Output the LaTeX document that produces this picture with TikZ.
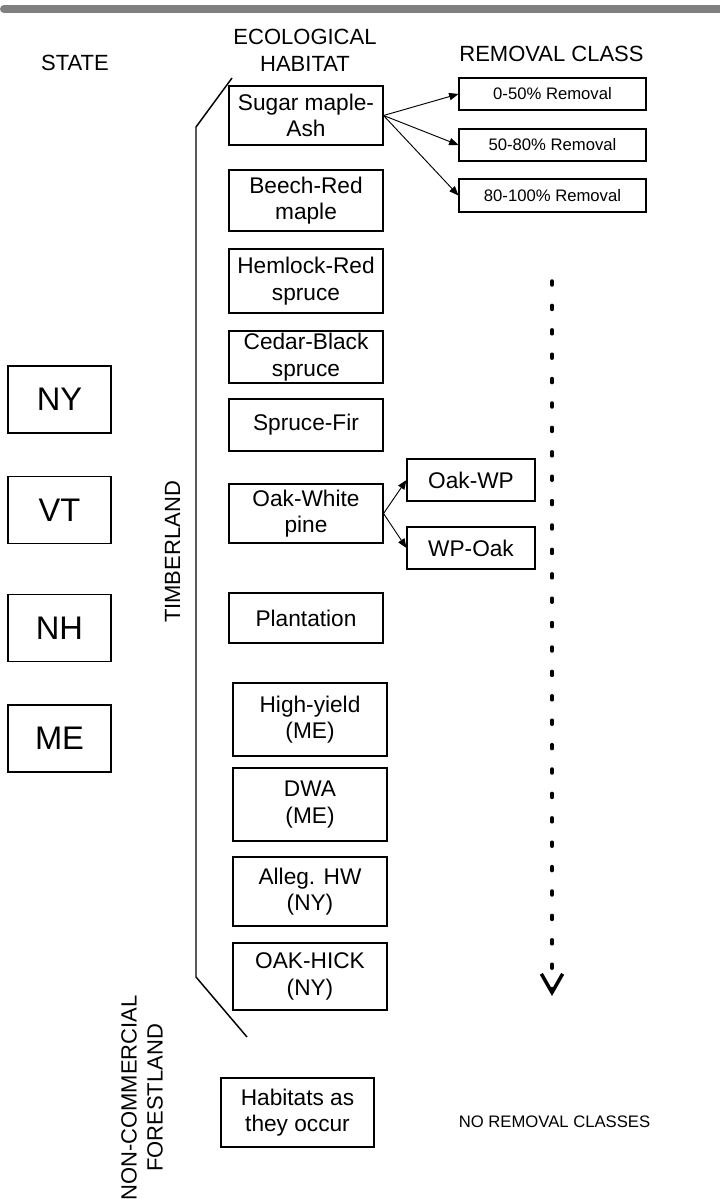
\documentclass[tikz,border=0pt]{standalone}
\usepackage{fontspec}
\setmainfont{Liberation Sans}
\usetikzlibrary{arrows.meta}
\begin{document}
\begin{tikzpicture}[x=0.75pt,y=-0.75pt,
  box/.style={draw, line width=0.8pt, inner sep=0pt, align=center, font=\fontsize{17}{20}\selectfont},
  wa/.style={box, minimum width=115.5pt},
  statebox/.style={draw, line width=0.8pt, inner sep=0pt, minimum width=77.25pt, minimum height=50.25pt, font=\fontsize{24.5}{28}\selectfont},
  rembox/.style={draw, line width=0.8pt, inner sep=0pt, minimum width=140.25pt, font=\fontsize{12.5}{14}\selectfont},
  subbox/.style={box, minimum width=96pt, minimum height=31.5pt},
  head/.style={inner sep=0pt, align=center, font=\fontsize{16.5}{20}\selectfont},
  conn/.style={line width=0.7pt, -{Triangle[length=7pt,width=5.5pt]}},
  bracket/.style={line width=1.1pt}
]
\useasboundingbox (0,0) rectangle (719,1199);
% top bar
\draw[line width=6pt, color=black!50, line cap=round] (4,9) -- (725,9);
% headers
\node[head] (hstate) at (75,63) {STATE};
\node[head] (hhab) at (305,50) {ECOLOGICAL\\HABITAT};
\node[head] (hrem) at (551.5,54) {REMOVAL CLASS};
% state boxes
\node[statebox] (NY) at (59.5,399.5) {NY};
\node[statebox] (VT) at (59.5,510) {VT};
\node[statebox] (NH) at (59.5,628) {NH};
\node[statebox] (ME) at (59.5,738.5) {ME};
% habitat boxes
\node[wa, minimum height=44.25pt] (sm) at (306,115.5) {Sugar maple-\\Ash};
\node[wa, minimum height=45.75pt] (br) at (306,200.5) {Beech-Red\\maple};
\node[wa, minimum height=48pt] (hr) at (306,281) {Hemlock-Red\\spruce};
\node[wa, minimum height=39pt] (cb) at (306,357) {Cedar-Black\\spruce};
\node[wa, minimum height=39pt] (sf) at (306,425) {Spruce-Fir};
\node[wa, minimum height=44.25pt] (ow) at (306,513.5) {Oak-White\\pine};
\node[wa, minimum height=37.5pt] (pl) at (306,618) {Plantation};
\node[wa, minimum height=54.75pt] (hy) at (310,719.5) {High-yield\\(ME)};
\node[wa, minimum height=54.75pt] (dwa) at (310,804.5) {DWA\\(ME)};
\node[wa, minimum height=51.75pt] (ah) at (310,891.5) {Alleg. HW\\(NY)};
\node[wa, minimum height=50.25pt] (oh) at (310,976.5) {OAK-HICK\\(NY)};
\node[box, minimum width=114.75pt, minimum height=51.75pt] (hab) at (297.5,1112.5) {Habitats as\\they occur};
% removal boxes
\node[rembox, minimum height=24pt] (r1) at (552.5,94) {0-50\% Removal};
\node[rembox, minimum height=24pt] (r2) at (552.5,145) {50-80\% Removal};
\node[rembox, minimum height=24.75pt] (r3) at (552.5,195.5) {80-100\% Removal};
% oak sub boxes
\node[subbox] (owp) at (471,480) {Oak-WP};
\node[subbox] (wpo) at (471,548) {WP-Oak};
% connectors
\draw[conn] (sm.east) -- (r1.west);
\draw[conn] (sm.east) -- (r2.west);
\draw[conn] (sm.east) -- (r3.west);
\draw[conn] (ow.east) -- (owp.west);
\draw[conn] (ow.east) -- (wpo.west);
% bracket
\draw[bracket] (232,78) -- (196,127) -- (196,977) -- (247,1037);
% side labels
\node[head, rotate=90] (timber) at (172.5,552) {TIMBERLAND};
\node[head, rotate=90, font=\fontsize{16.5}{19.5}\selectfont] (ncf) at (142,1098) {NON-COMMERCIAL\\FORESTLAND};
\node[inner sep=0pt, font=\fontsize{12.5}{14}\selectfont] (norem) at (554.5,1122) {NO REMOVAL CLASSES};
% dotted arrow
\coordinate (dtop) at (552,281);
\coordinate (dbot) at (552,996);
\draw[line width=2.6pt, line cap=round, dash pattern=on 3pt off 15.3pt,
  -{Straight Barb[length=14pt,width=16pt,line width=2.6pt]}] (dtop) -- (dbot);
\end{tikzpicture}
\end{document}
